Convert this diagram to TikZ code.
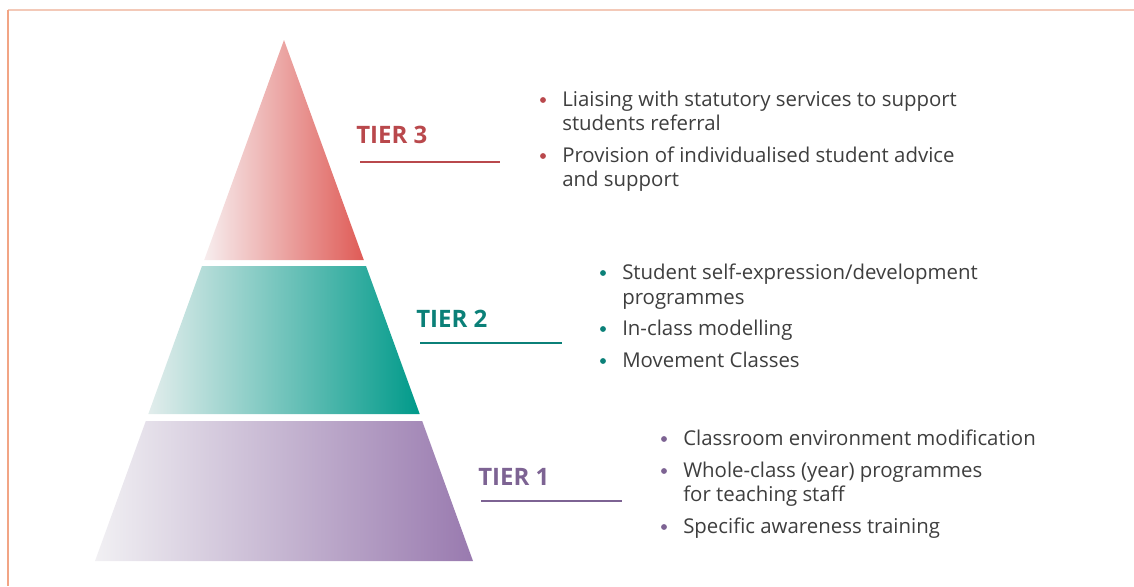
\documentclass[tikz,border=0pt]{standalone}
\usepackage{fontspec}
\setmainfont{Open Sans}
\definecolor{txt}{HTML}{3E3E3E}
\definecolor{redT}{HTML}{B9484C}
\definecolor{tealT}{HTML}{0B8078}
\definecolor{purT}{HTML}{7D6393}
\definecolor{redR}{HTML}{DF5B56}
\definecolor{redL}{HTML}{F7EDEE}
\definecolor{tealR}{HTML}{009A8A}
\definecolor{tealL}{HTML}{E2EDEC}
\definecolor{purR}{HTML}{997AAF}
\definecolor{purL}{HTML}{F1F0F3}
\definecolor{frameTop}{HTML}{F3C9B8}
\definecolor{frameLeft}{HTML}{F2A585}
\tikzset{
  itemtext/.style={anchor=base west, inner sep=0pt, text=txt, font=\fontsize{15.3}{18}\selectfont},
  tierlabel/.style={anchor=base west, inner sep=0pt, font=\bfseries\fontsize{18}{20}\selectfont},
  bullet/.style={circle, inner sep=0pt, minimum size=4.4pt, draw=none},
  tierline/.style={line width=2pt},
}
\begin{document}
\begin{tikzpicture}[x=0.75pt,y=-0.75pt]
\useasboundingbox (0,0) rectangle (1134,586);
% frame
\draw[frameTop, line width=1.3pt] (8,10) -- (1134,10);
\draw[frameLeft, line width=1.3pt] (8,10) -- (8,586);
% pyramid
\shade[left color=redL, right color=redR] (284,40) -- (363.8,260) -- (204.2,260) -- cycle;
\shade[left color=tealL, right color=tealR] (202,266) -- (366,266) -- (419.7,414) -- (148.3,414) -- cycle;
\shade[left color=purL, right color=purR] (145.8,421) -- (422.2,421) -- (473,561) -- (95,561) -- cycle;
% tier 3
\node[tierlabel, text=redT] (tier3) at (356,143.5) {TIER 3};
\coordinate (l3a) at (360,162);
\coordinate (l3b) at (500,162);
\draw[tierline, redT] (l3a) -- (l3b);
\node[bullet, fill=redT] (b31) at (543,100) {};
\node[itemtext] (t31) at (562,106) {Liaising with statutory services to support};
\node[itemtext] (t32) at (562,130) {students referral};
\node[bullet, fill=redT] (b32) at (543,156) {};
\node[itemtext] (t33) at (562,162) {Provision of individualised student advice};
\node[itemtext] (t34) at (562,186) {and support};
% tier 2
\node[tierlabel, text=tealT] (tier2) at (416,327) {TIER 2};
\coordinate (l2a) at (420,343);
\coordinate (l2b) at (562,343);
\draw[tierline, tealT] (l2a) -- (l2b);
\node[bullet, fill=tealT] (b21) at (603,273) {};
\node[itemtext] (t21) at (622,279) {Student self-expression/development};
\node[itemtext] (t22) at (622,304) {programmes};
\node[bullet, fill=tealT] (b22) at (603,329) {};
\node[itemtext] (t23) at (622,335) {In-class modelling};
\node[bullet, fill=tealT] (b23) at (603,361) {};
\node[itemtext] (t24) at (622,367) {Movement Classes};
% tier 1
\node[tierlabel, text=purT] (tier1) at (478,485.5) {TIER 1};
\coordinate (l1a) at (481,501);
\coordinate (l1b) at (622,501);
\draw[tierline, purT] (l1a) -- (l1b);
\node[bullet, fill=purT] (b11) at (664,439) {};
\node[itemtext] (t11) at (683,445) {Classroom environment modification};
\node[bullet, fill=purT] (b12) at (664,471) {};
\node[itemtext] (t12) at (683,477) {Whole-class (year) programmes};
\node[itemtext] (t13) at (683,501) {for teaching staff};
\node[bullet, fill=purT] (b13) at (664,527) {};
\node[itemtext] (t14) at (683,533) {Specific awareness training};
\end{tikzpicture}
\end{document}
